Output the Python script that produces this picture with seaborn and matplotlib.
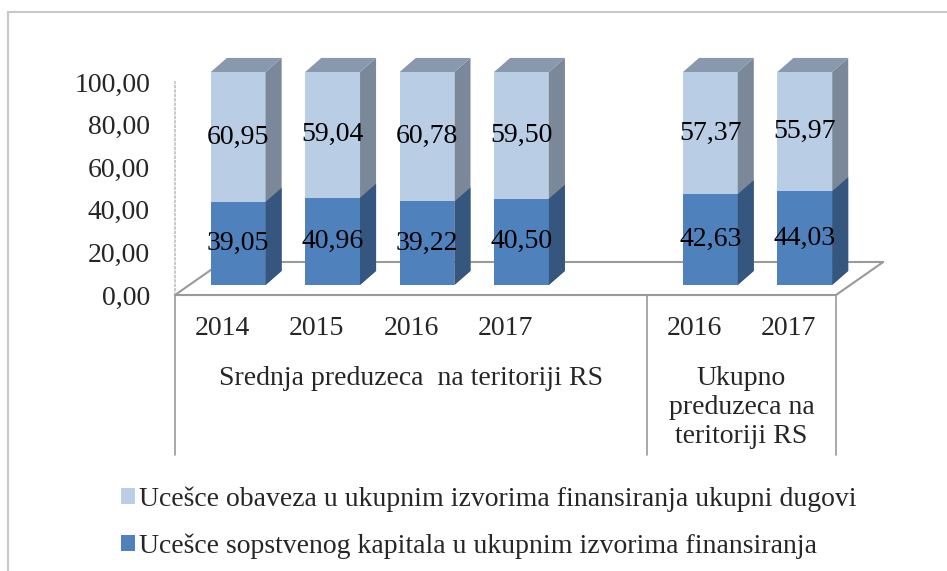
import matplotlib
matplotlib.use("Agg")
import matplotlib.pyplot as plt
import matplotlib.transforms as mtransforms
from matplotlib.patches import Polygon, Patch
from matplotlib.lines import Line2D
import pandas as pd
import seaborn as sns

sns.set_theme(style="white")
plt.rcParams['font.family'] = ['Liberation Serif', 'DejaVu Serif']

# data
groups = ["Srednja preduzeca  na teritoriji RS", "Ukupno\npreduzeca na\nteritoriji RS"]
years_srednja = ["2014", "2015", "2016", "2017"]
years_ukupno = ["2016", "2017"]
kapital = [39.05, 40.96, 39.22, 40.50, 42.63, 44.03]
obaveze = [60.95, 59.04, 60.78, 59.50, 57.37, 55.97]
y_ticks = [0, 20, 40, 60, 80, 100]

label_obaveze = "Ucešce obaveza u ukupnim izvorima finansiranja ukupni dugovi"
label_kapital = "Ucešce sopstvenog kapitala u ukupnim izvorima finansiranja"

# colours (front, side, top)
light = "#B9CDE5"
light_side = "#7B889A"
light_top = "#8898AD"
dark = "#4F81BD"
dark_side = "#34567F"
grey = "#9A9A9A"
FS = 20


def fmt(v):
    return "{:.2f}".format(v).replace(".", ",")


# one empty slot between the two groups
pos = list(range(len(years_srednja))) + [len(years_srednja) + 1 + i for i in range(len(years_ukupno))]
df = pd.DataFrame({
    "pos": pos,
    "kapital": kapital,
    "ukupno": [k + o for k, o in zip(kapital, obaveze)],
})

W, H = 947, 571
fig = plt.figure(figsize=(W / 100, H / 100), dpi=100)
ax = fig.add_axes([175 / W, 1 - 295 / H, 661 / W, 213 / H])

sns.barplot(data=df, x="pos", y="ukupno", native_scale=True, orient="x", width=0.58,
            color=light, saturation=1, linewidth=0, errorbar=None, ax=ax)
sns.barplot(data=df, x="pos", y="kapital", native_scale=True, orient="x", width=0.58,
            color=dark, saturation=1, linewidth=0, errorbar=None, ax=ax)

ax.set_xlim(-0.5, pos[-1] + 0.5)
ax.set_ylim(0, 100)

# 3D look: bars stand a bit deeper on the floor
bar_trans = ax.transData + mtransforms.ScaledTranslation(16 / 100, 10 / 100, fig.dpi_scale_trans)
ddx, ddy = 0.17, 6.6          # bar depth in data units
fdx, fdy = 0.50, 15.5         # floor depth in data units

n = len(pos)
for i, p in enumerate(ax.patches):
    p.set_transform(bar_trans)
    p.set_zorder(3)
    p.set_clip_on(False)
    x, w, h = p.get_x(), p.get_width(), p.get_height()
    top = i < n
    ax.add_patch(Polygon([(x + w, 0), (x + w + ddx, ddy), (x + w + ddx, h + ddy), (x + w, h)],
                         closed=True, facecolor=light_side if top else dark_side, lw=0,
                         transform=bar_trans, zorder=3, clip_on=False))
    if top:
        ax.add_patch(Polygon([(x, h), (x + ddx, h + ddy), (x + w + ddx, h + ddy), (x + w, h)],
                             closed=True, facecolor=light_top, lw=0,
                             transform=bar_trans, zorder=3, clip_on=False))

# value labels
for x, k, o in zip(pos, kapital, obaveze):
    ax.text(x, k / 2, fmt(k), ha="center", va="center", fontsize=FS, color="black",
            transform=bar_trans, zorder=5)
    ax.text(x, k + o / 2, fmt(o), ha="center", va="center", fontsize=FS, color="black",
            transform=bar_trans, zorder=5)

# floor
x0, x1 = ax.get_xlim()
ax.plot([x0 + fdx, x1 + fdx], [fdy, fdy], color=grey, lw=1.5, clip_on=False, zorder=1)
ax.plot([x0, x0 + fdx], [0, fdy], color=grey, lw=1.5, clip_on=False, zorder=1)
ax.plot([x1, x1 + fdx], [0, fdy], color=grey, lw=1.5, clip_on=False, zorder=1)

# axes look
sns.despine(ax=ax, top=True, right=True)
ax.spines["left"].set_color("#BFBFBF")
ax.spines["left"].set_linestyle(":")
ax.spines["left"].set_linewidth(1.2)
ax.spines["bottom"].set_color(grey)
ax.spines["bottom"].set_linewidth(1.5)

ax.set_yticks(y_ticks)
ax.set_yticklabels([fmt(t) for t in y_ticks], fontsize=FS)
ax.set_xticks(pos)
ax.set_xticklabels(years_srednja + years_ukupno, fontsize=FS)
ax.tick_params(axis="y", length=0, pad=18)
ax.tick_params(axis="x", length=0, pad=15)
ax.set_xlabel("")
ax.set_ylabel("")

# group separators and group labels
sep = len(years_srednja) + 0.5
xt = ax.get_xaxis_transform()
for xs in [x0, sep, x1]:
    ax.plot([xs, xs], [0, -0.75], color=grey, lw=1.2, transform=xt, clip_on=False)
ax.text((x0 + sep) / 2, -0.335, groups[0], ha="center", va="top",
        fontsize=FS, transform=xt)
ax.text((sep + x1) / 2, -0.335, groups[1], ha="center", va="top",
        fontsize=FS, linespacing=1.2, transform=xt)

# legend
handles = [Patch(facecolor=light, edgecolor="none", label=label_obaveze),
           Patch(facecolor=dark, edgecolor="none", label=label_kapital)]
fig.legend(handles=handles, loc="upper left", bbox_to_anchor=(121 / W, 1 - 486 / H),
           frameon=False, fontsize=FS, handlelength=0.5, handleheight=0.5,
           handletextpad=0.15, labelspacing=0.8, borderpad=0, borderaxespad=0)

# outer chart border (top and left visible)
fig.add_artist(Line2D([8 / W, 1], [1 - 12 / H, 1 - 12 / H], color="#C8C8C8", lw=1.5))
fig.add_artist(Line2D([8 / W, 8 / W], [0, 1 - 12 / H], color="#C8C8C8", lw=1.5))

fig.savefig("out.png", dpi=100)
